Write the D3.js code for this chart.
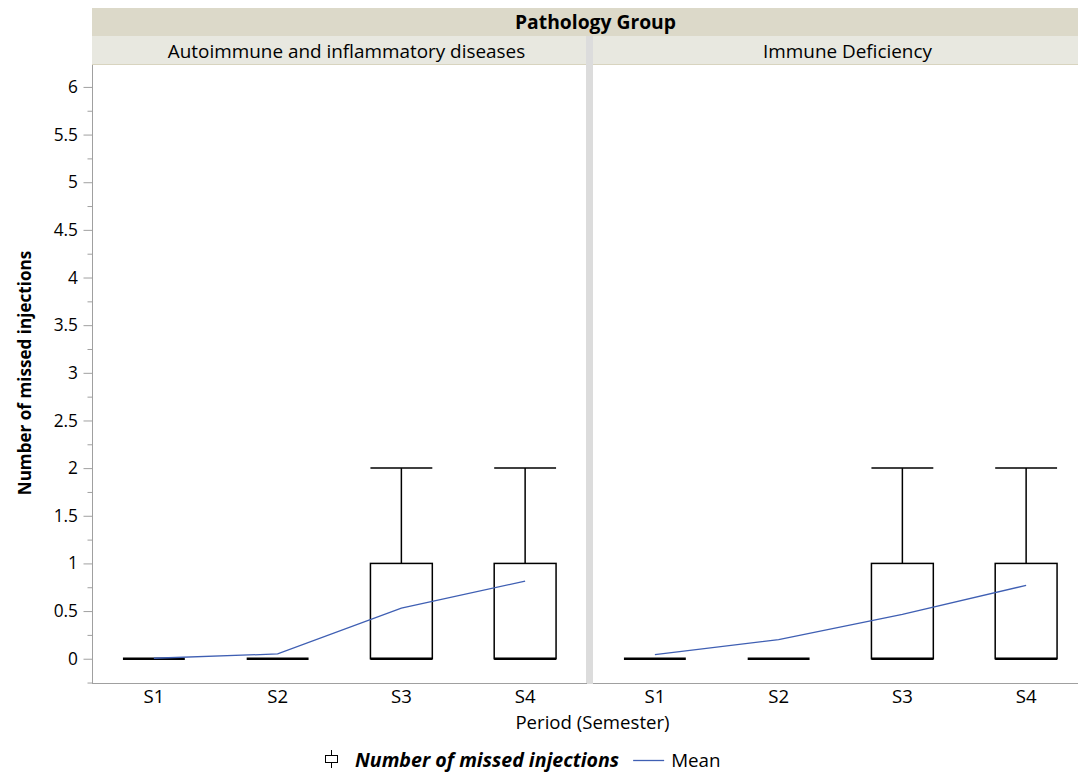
<!DOCTYPE html>
<html><head><meta charset="utf-8">
<script src="https://cdn.jsdelivr.net/npm/d3@7"></script>
<style>body{margin:0;background:#fff}svg{display:block;font-family:"Open Sans","Noto Sans",sans-serif}</style>
</head><body><svg id="c" width="1078" height="773"></svg>
<script>
const groups = ["Autoimmune and inflammatory diseases", "Immune Deficiency"];
const periods = ["S1", "S2", "S3", "S4"];
// box stats per group: [min, q1, median, q3, max]
const boxAuto = [[0,0,0,0,0],[0,0,0,0,0],[0,0,0,1,2],[0,0,0,1,2]];
const boxImmune = [[0,0,0,0,0],[0,0,0,0,0],[0,0,0,1,2],[0,0,0,1,2]];
const meanAuto = [0.005, 0.05, 0.53, 0.815];
const meanImmune = [0.042, 0.2, 0.465, 0.77];
const yTicks = [0,0.5,1,1.5,2,2.5,3,3.5,4,4.5,5,5.5,6];
const yMinorTicks = [-0.25,0.25,0.75,1.25,1.75,2.25,2.75,3.25,3.75,4.25,4.75,5.25,5.75];

const svg = d3.select("#c");
const y = d3.scaleLinear().domain([-0.26, 6.23]).range([683.5, 65]);
const panels = [
  {name: groups[0], boxes: boxAuto, means: meanAuto, x0: 92, x1: 587},
  {name: groups[1], boxes: boxImmune, means: meanImmune, x0: 593, x1: 1088}
];

// header bands
svg.append("rect").attr("x",92).attr("y",8).attr("width",1000).attr("height",28).attr("fill","#dcd9c9");
svg.append("text").attr("x",595.5).attr("y",29).attr("text-anchor","middle")
  .attr("font-size",19.3).attr("font-weight","bold").attr("fill","#000").text("Pathology Group");
panels.forEach(p=>{
  svg.append("rect").attr("x",p.x0).attr("y",36).attr("width",p.x1-p.x0).attr("height",28).attr("fill","#e8e8e0");
  svg.append("line").attr("x1",p.x0).attr("x2",p.x1).attr("y1",64.5).attr("y2",64.5).attr("stroke","#d8d4bf").attr("stroke-width",1);
  svg.append("text").attr("x",(p.x0+p.x1)/2+7).attr("y",58).attr("text-anchor","middle")
    .attr("font-size",18.9).attr("fill","#000").text(p.name);
});
// divider
svg.append("rect").attr("x",586).attr("y",36).attr("width",7).attr("height",648).attr("fill","#dcdcdc");

// y axis
const yAxis = d3.axisLeft(y).tickValues(yTicks).tickSize(9).tickPadding(5.5).tickFormat(d3.format("~g"));
const gy = svg.append("g").attr("transform","translate(92.5,0)").call(yAxis);
gy.select(".domain").attr("stroke","#a0a0a0").attr("d","M0,65V684");
gy.selectAll(".tick line").attr("stroke","#a0a0a0");
gy.selectAll(".tick text").attr("font-size",17.3).attr("fill","#000").attr("font-family","Open Sans");
const gym = svg.append("g").attr("transform","translate(92.5,0)")
  .call(d3.axisLeft(y).tickValues(yMinorTicks).tickSize(5).tickFormat(""));
gym.select(".domain").remove();
gym.selectAll(".tick line").attr("stroke","#a0a0a0");

svg.append("text").attr("transform","translate(31,373) rotate(-90)").attr("text-anchor","middle")
  .attr("font-size",17.1).attr("font-weight","bold").attr("fill","#000").text("Number of missed injections");

panels.forEach(p=>{
  const x = d3.scaleBand().domain(periods).range([p.x0, p.x1]);
  const bw = x.bandwidth()/2;
  const cx = d => x(d) + x.bandwidth()/2;
  const g = svg.append("g");
  // x axis line
  g.append("line").attr("x1",p.x0).attr("x2",p.x1).attr("y1",683.5).attr("y2",683.5).attr("stroke","#a0a0a0");
  const gx = g.append("g").attr("transform","translate(0,683.5)")
    .call(d3.axisBottom(x).tickSize(0).tickPadding(6.5));
  gx.select(".domain").remove();
  gx.selectAll(".tick text").attr("font-size",18.6).attr("fill","#000").attr("font-family","Open Sans");
  periods.forEach((per,i)=>{
    const b = p.boxes[i];
    const c = cx(per);
    if (b[4] > b[3]) {
      g.append("line").attr("x1",c).attr("x2",c).attr("y1",y(b[3])).attr("y2",y(b[4])).attr("stroke","#000").attr("stroke-width",1.5);
      g.append("line").attr("x1",c-bw/2).attr("x2",c+bw/2).attr("y1",y(b[4])).attr("y2",y(b[4])).attr("stroke","#000").attr("stroke-width",1.5);
    }
    if (b[3] > b[1]) {
      g.append("rect").attr("x",c-bw/2).attr("y",y(b[3])).attr("width",bw).attr("height",y(b[1])-y(b[3]))
        .attr("fill","none").attr("stroke","#000").attr("stroke-width",1.5);
    }
    g.append("line").attr("x1",c-bw/2).attr("x2",c+bw/2).attr("y1",y(b[2])).attr("y2",y(b[2])).attr("stroke","#000").attr("stroke-width",2.5);
  });
  const line = d3.line().x((d,i)=>cx(periods[i])).y(d=>y(d));
  g.append("path").attr("d",line(p.means)).attr("fill","none").attr("stroke","#3f5fb3").attr("stroke-width",1.3);
});

svg.append("text").attr("x",592.5).attr("y",729).attr("text-anchor","middle").attr("font-size",18.6).attr("fill","#000").text("Period (Semester)");

// legend
const lg = svg.append("g");
lg.append("rect").attr("x",325.5).attr("y",755.5).attr("width",12).attr("height",7).attr("fill","none").attr("stroke","#000");
lg.append("line").attr("x1",331.5).attr("x2",331.5).attr("y1",750).attr("y2",755.5).attr("stroke","#000");
lg.append("line").attr("x1",331.5).attr("x2",331.5).attr("y1",762.5).attr("y2",768).attr("stroke","#000");
const lt = lg.append("text").attr("x",355).attr("y",767).attr("font-size",19.6).attr("font-weight","bold").attr("font-style","italic")
  .attr("fill","#000").text("Number of missed injections");
const lend = 355 + lt.node().getComputedTextLength();
lg.append("line").attr("x1",lend+14).attr("x2",lend+45).attr("y1",760.5).attr("y2",760.5).attr("stroke","#3f5fb3").attr("stroke-width",1.3);
lg.append("text").attr("x",lend+52).attr("y",767).attr("font-size",18.8).attr("fill","#000").text("Mean");
</script></body></html>
